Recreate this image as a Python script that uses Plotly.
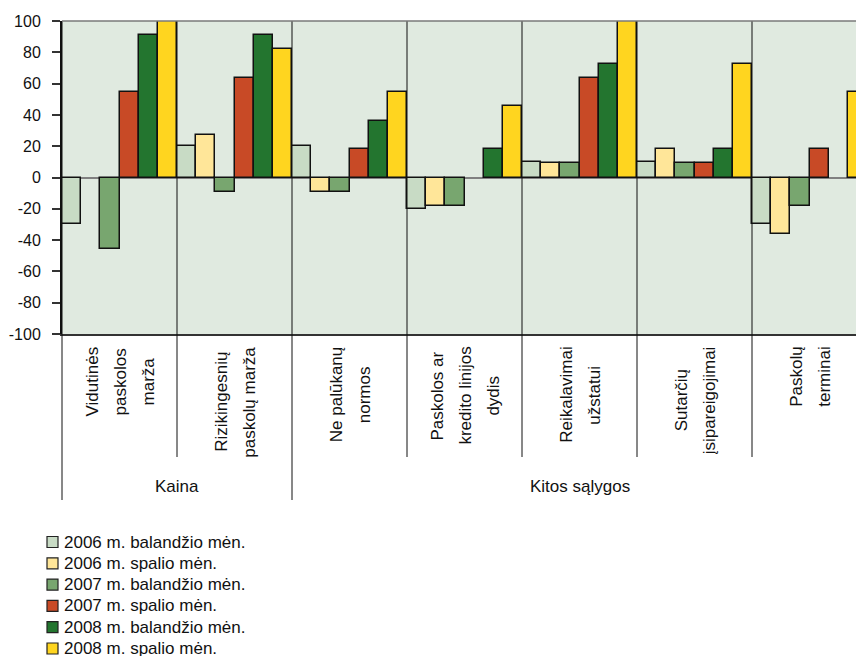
import plotly.graph_objects as go

# Survey categories (label lines) and their groups
categories = ["Vidutinės paskolos marža", "Rizikingesnių paskolų marža", "Ne palūkanų normos",
              "Paskolos ar kredito linijos dydis", "Reikalavimai užstatui",
              "Sutarčių įsipareigojimai", "Paskolų terminai"]
category_lines = [["Vidutinės", "paskolos", "marža"],
                  ["Rizikingesnių", "paskolų marža"],
                  ["Ne palūkanų", "normos"],
                  ["Paskolos ar", "kredito linijos", "dydis"],
                  ["Reikalavimai", "užstatui"],
                  ["Sutarčių", "įsipareigojimai"],
                  ["Paskolų", "terminai"]]
groups = ["Kaina", "Kitos sąlygos"]
group_sizes = [2, 5]

# Net percentage per survey round
series_names = ["2006 m. balandžio mėn.", "2006 m. spalio mėn.", "2007 m. balandžio mėn.",
                "2007 m. spalio mėn.", "2008 m. balandžio mėn.", "2008 m. spalio mėn."]
v_2006_apr = [-30, 20, 20, -20, 10, 10, -30]
v_2006_oct = [None, 27.3, -9.1, -18.2, 9.1, 18.2, -36.4]
v_2007_apr = [-45.5, -9.1, -9.1, -18.2, 9.1, 9.1, -18.2]
v_2007_oct = [54.5, 63.6, 18.2, None, 63.6, 9.1, 18.2]
v_2008_apr = [90.9, 90.9, 36.4, 18.2, 72.7, 18.2, None]
v_2008_oct = [100, 81.8, 54.5, 45.5, 100, 72.7, 54.5]
series_values = [v_2006_apr, v_2006_oct, v_2007_apr, v_2007_oct, v_2008_apr, v_2008_oct]
series_colors = ["#C8DBC5", "#FFE699", "#78A66F", "#C84A26", "#23752F", "#FFD51F"]

y_ticks = [100, 80, 60, 40, 20, 0, -20, -40, -60, -80, -100]

FONT = "Liberation Sans, Arial, sans-serif"
LABEL_SIZE = 17
W, H = 856, 656
ML, MT, MB = 62, 21, 322
plot_w = W - ML
plot_h = H - MT - MB
cat_px = 115.0
x_range = [-0.5, -0.5 + plot_w / cat_px]

# Approximate advance widths (em) of the label font, used to centre rotated label blocks
_W = {' ': .278, 'a': .556, 'b': .556, 'c': .5, 'd': .556, 'e': .556, 'f': .278, 'g': .556,
      'h': .556, 'i': .222, 'j': .222, 'k': .5, 'l': .222, 'm': .833, 'n': .556, 'o': .556,
      'p': .556, 'r': .333, 's': .5, 't': .278, 'u': .556, 'v': .5, 'y': .5, 'z': .5,
      'ė': .556, 'ų': .556, 'ž': .5, 'ą': .556, 'į': .222, 'č': .5, 'ū': .556,
      'K': .667, 'N': .722, 'P': .667, 'R': .722, 'S': .667, 'V': .667}


def text_len(s, size):
    return sum(_W.get(ch, .556) for ch in s) * size


def py_to_paper(py):
    """Convert a pixel row to paper y."""
    return (H - MB - py) / plot_h


def px_to_paper(px):
    """Convert a pixel column to paper x."""
    return (px - ML) / plot_w


def cat_to_paper(x):
    return (x - x_range[0]) / (x_range[1] - x_range[0])


fig = go.Figure()
for name, vals, col in zip(series_names, series_values, series_colors):
    fig.add_trace(go.Bar(
        x=list(range(len(categories))), y=vals, name=name,
        marker=dict(color=col, line=dict(color="#111111", width=1.5)),
        showlegend=False,
    ))

shapes = []
annotations = []

# Category separators running through the plot and down into the label area
group_edges = [-0.5]
acc = -0.5
for s in group_sizes:
    acc += s
    group_edges.append(acc)
for i in range(len(categories) + 1):
    b = i - 0.5
    bottom = py_to_paper(500) if b in group_edges else py_to_paper(457)
    xp = cat_to_paper(b)
    if xp > 1.0001:
        continue
    shapes.append(dict(type="line", xref="paper", yref="paper", x0=xp, x1=xp,
                       y0=1, y1=bottom, line=dict(color="#111111", width=1), layer="above"))

# Top border of the plot area
shapes.append(dict(type="line", xref="paper", yref="paper", x0=0, x1=1, y0=1, y1=1,
                   line=dict(color="#7a7a7a", width=1.5), layer="above"))

# Rotated category labels: one annotation per line, lines centred on the longest one
LINE_GAP = 28
LABEL_TOP = 347
for i, lines in enumerate(category_lines):
    longest = max(text_len(l, LABEL_SIZE) for l in lines)
    yc = LABEL_TOP + longest / 2.0
    n = len(lines)
    for j, line in enumerate(lines):
        annotations.append(dict(
            x=i, xref="x", y=py_to_paper(yc), yref="paper", yanchor="middle", xanchor="center",
            xshift=(j - (n - 1) / 2.0) * LINE_GAP + 1,
            text=line, textangle=-90, showarrow=False,
            font=dict(family=FONT, size=LABEL_SIZE, color="#111111")))

# Group labels
start = -0.5
for g, s in zip(groups, group_sizes):
    center = start + s / 2.0
    annotations.append(dict(
        x=center, xref="x", y=py_to_paper(486), yref="paper", yanchor="middle", xanchor="center",
        text=g, showarrow=False, font=dict(family=FONT, size=LABEL_SIZE, color="#111111")))
    start += s

# Legend drawn as swatches with labels
leg_top = 542
leg_step = 21.3
for i, (name, col) in enumerate(zip(series_names, series_colors)):
    yc = leg_top + i * leg_step
    shapes.append(dict(type="rect", xref="paper", yref="paper",
                       x0=px_to_paper(47), x1=px_to_paper(58),
                       y0=py_to_paper(yc - 5.5), y1=py_to_paper(yc + 5.5),
                       fillcolor=col, line=dict(color="#222222", width=1.2)))
    annotations.append(dict(
        x=px_to_paper(62), xref="paper", y=py_to_paper(yc), yref="paper",
        xanchor="left", yanchor="middle", text=name, showarrow=False,
        font=dict(family=FONT, size=17, color="#111111")))

fig.update_layout(
    width=W, height=H,
    margin=dict(l=ML, r=0, t=MT, b=MB, pad=0),
    paper_bgcolor="white", plot_bgcolor="#E0EAE0",
    barmode="group", bargap=0, bargroupgap=0,
    font=dict(family=FONT, size=LABEL_SIZE, color="#111111"),
    shapes=shapes, annotations=annotations,
    xaxis=dict(range=x_range, showticklabels=False, showgrid=False, zeroline=False,
               showline=True, linecolor="#333333", linewidth=2, ticks=""),
    yaxis=dict(range=[-100, 100], tickvals=y_ticks, ticktext=[str(t) for t in y_ticks],
               showgrid=False, zeroline=True, zerolinecolor="#808080", zerolinewidth=1.5,
               showline=True, linecolor="#111111", linewidth=2,
               ticks="outside", ticklen=8, tickwidth=1.5, tickcolor="#333333",
               ticklabelstandoff=8,
               tickfont=dict(family=FONT, size=16, color="#111111")),
)

fig.write_html("out.html")
